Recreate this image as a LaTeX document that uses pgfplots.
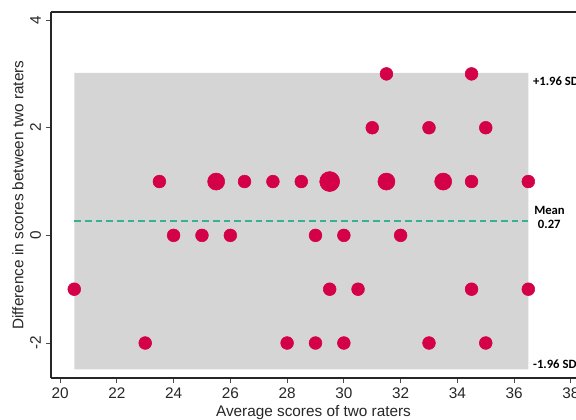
\documentclass[border=0pt]{standalone}
\usepackage{pgfplots}
\pgfplotsset{compat=1.18}
\usepackage{fontspec}
\setmainfont{Liberation Sans}
\newfontfamily\annfont{Carlito}
\definecolor{dotred}{RGB}{212,0,72}
\definecolor{meanteal}{RGB}{58,176,146}
\definecolor{bandgray}{RGB}{213,213,213}
\begin{document}
\begin{tikzpicture}
\begin{axis}[
  at={(0,0)}, anchor=south west,
  scale only axis,
  width=393.75pt, height=274.5pt,
  xmin=19.68, xmax=38.18,
  ymin=-2.65, ymax=4.15,
  axis x line*=bottom, axis y line*=left,
  axis line style={-, line width=0.8pt, draw=black!85},
  tick align=outside,
  major tick length=4pt,
  tick style={line width=0.6pt, draw=black!70},
  xtick={20,22,...,38},
  ytick={-2,0,2,4},
  /pgf/number format/assume math mode=true,
  ticklabel style={font=\fontsize{11.5}{13}\selectfont, text=black!85},
  yticklabel style={rotate=90, anchor=south},
  xlabel={Average scores of two raters},
  ylabel={Difference in scores between two raters},
  label style={font=\fontsize{11.5}{13}\selectfont, text=black!85},
  xlabel style={at={(axis description cs:0.5,-0.095)}, anchor=center},
  ylabel style={at={(axis description cs:-0.063,0.5)}, anchor=center, rotate=0},
  clip=false,
]
% limits of agreement band
\addplot[fill=bandgray, draw=none] coordinates {(20.5,-2.49) (36.5,-2.49) (36.5,3.02) (20.5,3.02) (20.5,-2.49)};
% mean line
\addplot[meanteal, line width=1.5pt, dash pattern=on 5pt off 3pt] coordinates {(20.5,0.27) (36.5,0.27)};
% normal points
\addplot[only marks, mark=*, mark size=4.8pt, mark options={fill=dotred, draw=dotred}] coordinates {
 (31.5,3) (34.5,3)
 (31,2) (33,2) (35,2)
 (23.5,1) (26.5,1) (27.5,1) (28.5,1) (34.5,1) (36.5,1)
 (24,0) (25,0) (26,0) (29,0) (30,0) (32,0)
 (20.5,-1) (29.5,-1) (30.5,-1) (34.5,-1) (36.5,-1)
 (23,-2) (28,-2) (29,-2) (30,-2) (33,-2) (35,-2)
};
% larger points
\addplot[only marks, mark=*, mark size=6.4pt, mark options={fill=dotred, draw=dotred}] coordinates {
 (25.5,1) (31.5,1) (33.5,1)
};
% largest point
\addplot[only marks, mark=*, mark size=7.5pt, mark options={fill=dotred, draw=dotred}] coordinates {
 (29.5,1)
};
\node[anchor=west, inner sep=0pt, font=\annfont\bfseries\fontsize{9.5}{10}\selectfont] at (axis cs:36.66,2.87) {+1.96 SD};
\node[anchor=west, inner sep=0pt, font=\annfont\bfseries\fontsize{9.5}{10}\selectfont] at (axis cs:36.7,0.47) {Mean};
\node[anchor=west, inner sep=0pt, font=\annfont\bfseries\fontsize{9.5}{10}\selectfont] at (axis cs:36.83,0.2) {0.27};
\node[anchor=west, inner sep=0pt, font=\annfont\bfseries\fontsize{9.5}{10}\selectfont] at (axis cs:36.66,-2.4) {-1.96 SD};
\draw[line width=0.8pt, draw=black!85] (rel axis cs:0,1) -- (rel axis cs:1,1);
\end{axis}
\pgfresetboundingbox
\useasboundingbox (-38.25pt,-30.75pt) rectangle (393.75pt,283.5pt);
\end{tikzpicture}
\end{document}
